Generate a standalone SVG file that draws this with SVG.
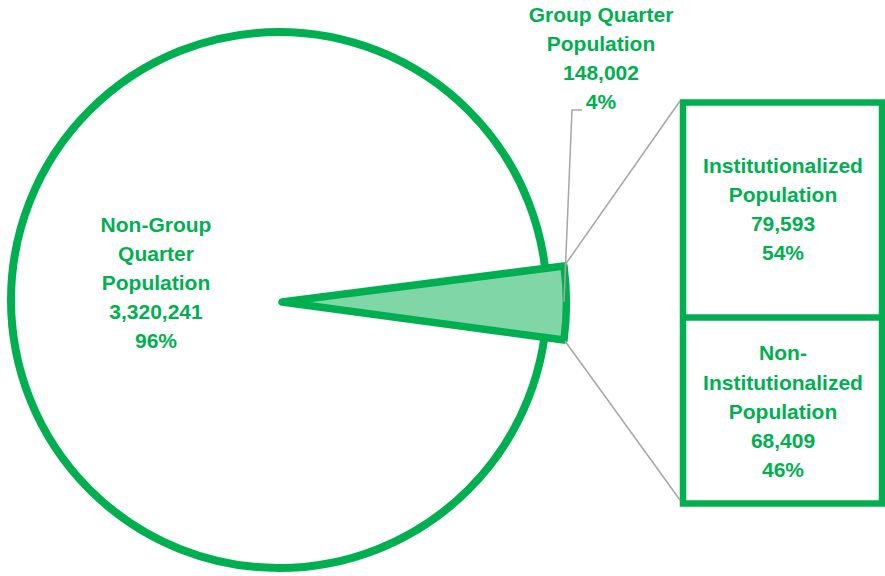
<svg xmlns="http://www.w3.org/2000/svg" width="885" height="576" viewBox="0 0 885 576">
<style>
.lbl{font-family:"Liberation Sans",Arial,sans-serif;font-weight:bold;font-size:21px;fill:#00B050;text-anchor:middle}
.gs{stroke:#00B050;fill:none}
.lead{stroke:#A6A6A6;stroke-width:1.5;fill:none}
</style>
<rect width="885" height="576" fill="#FFFFFF"/>
<g id="pie-main">
<circle cx="279" cy="300" r="268" fill="#FFFFFF" stroke="#00B050" stroke-width="8"/>
</g>
<g id="pie-slice">
<path d="M282,302 L564,266 A284,284 0 0 1 564,340 Z" fill="#80D6A6" stroke="#00B050" stroke-width="7.5" stroke-linejoin="round"/>
</g>
<g id="bar-box">
<rect x="683" y="102.5" width="199" height="401" fill="#FFFFFF" stroke="#00B050" stroke-width="6.5"/>
<line x1="683" y1="317.5" x2="882" y2="317.5" stroke="#00B050" stroke-width="6.5"/>
</g>
<g id="connectors">
<polyline class="lead" points="582,110 572,110 564,302"/>
<line class="lead" x1="680" y1="101" x2="565" y2="265"/>
<line class="lead" x1="565" y1="341" x2="680" y2="500"/>
</g>
<g id="label-nongroup">
<text class="lbl" x="156" y="232">Non-Group</text>
<text class="lbl" x="156" y="261">Quarter</text>
<text class="lbl" x="156" y="290">Population</text>
<text class="lbl" x="156" y="319">3,320,241</text>
<text class="lbl" x="156" y="348">96%</text>
</g>
<g id="label-group">
<text class="lbl" x="601" y="22">Group Quarter</text>
<text class="lbl" x="601" y="51">Population</text>
<text class="lbl" x="601" y="80">148,002</text>
<text class="lbl" x="601" y="109">4%</text>
</g>
<g id="label-inst">
<text class="lbl" x="783" y="173">Institutionalized</text>
<text class="lbl" x="783" y="202">Population</text>
<text class="lbl" x="783" y="231">79,593</text>
<text class="lbl" x="783" y="260">54%</text>
</g>
<g id="label-noninst">
<text class="lbl" x="783" y="360">Non-</text>
<text class="lbl" x="783" y="390">Institutionalized</text>
<text class="lbl" x="783" y="419">Population</text>
<text class="lbl" x="783" y="448">68,409</text>
<text class="lbl" x="783" y="477">46%</text>
</g>
</svg>
